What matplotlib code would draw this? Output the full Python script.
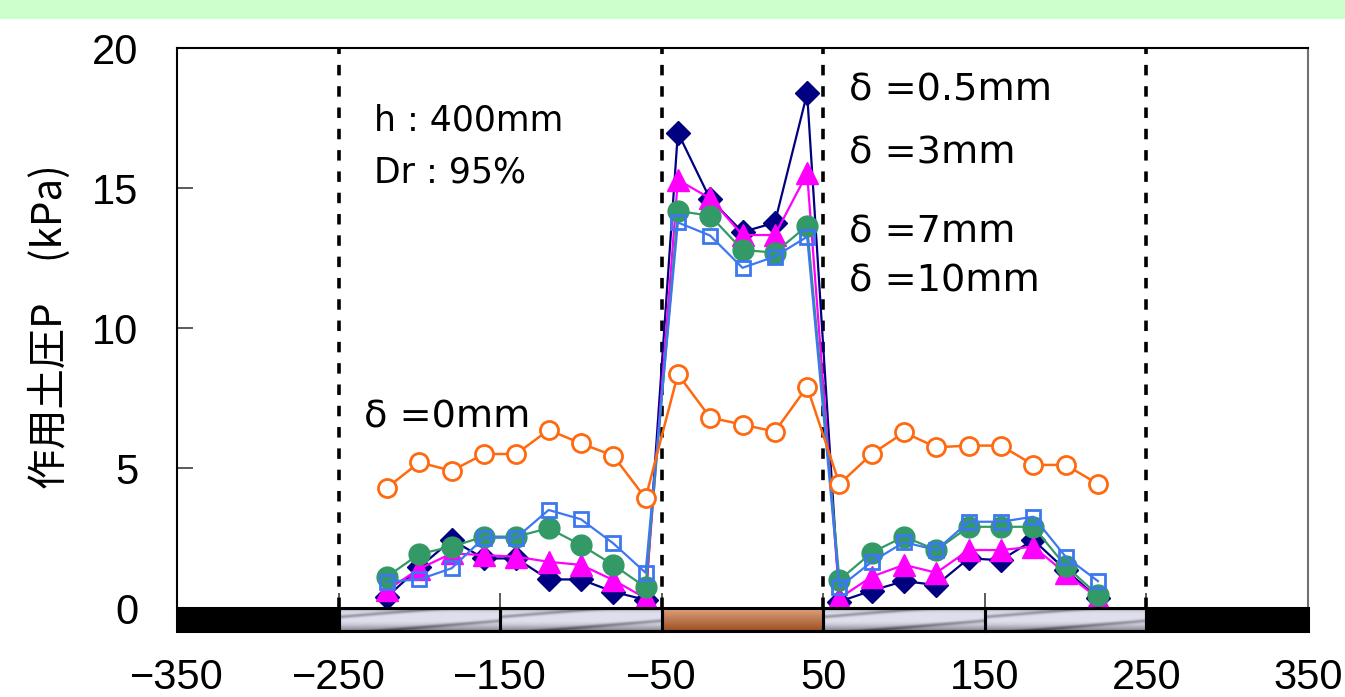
import numpy as np
import matplotlib
matplotlib.use("Agg")
import matplotlib.pyplot as plt
from matplotlib.patches import Rectangle

# ---------------- data ----------------
x_pos = [-220, -200, -180, -160, -140, -120, -100, -80, -60,
         -40, -20, 0, 20, 40,
         60, 80, 100, 120, 140, 160, 180, 200, 220]

p_d05 = [0.40, 1.45, 2.43, 1.77, 1.77, 1.02, 1.02, 0.58, 0.29,
         16.98, 14.6, 13.43, 13.76, 18.38,
         0.23, 0.62, 0.96, 0.82, 1.77, 1.71, 2.43, 1.36, 0.35]
p_d3 = [0.64, 1.40, 1.95, 1.89, 1.83, 1.65, 1.54, 1.00, 0.35,
        15.29, 14.63, 13.32, 13.32, 15.52,
        0.35, 1.12, 1.54, 1.26, 2.07, 2.07, 2.19, 1.24, 0.35]
p_d7 = [1.12, 1.93, 2.19, 2.55, 2.55, 2.85, 2.25, 1.54, 0.74,
        14.18, 14.01, 12.79, 12.69, 13.65,
        1.00, 1.98, 2.55, 2.07, 2.90, 2.90, 2.90, 1.50, 0.46]
p_d10 = [0.94, 1.02, 1.42, 2.51, 2.51, 3.50, 3.17, 2.31, 1.26,
         13.77, 13.30, 12.15, 12.55, 13.26,
         0.74, 1.65, 2.35, 2.07, 3.08, 3.08, 3.26, 1.83, 0.96]
p_d0 = [4.30, 5.20, 4.90, 5.50, 5.50, 6.36, 5.88, 5.44, 3.92,
        8.35, 6.80, 6.55, 6.30, 7.90,
        4.43, 5.50, 6.27, 5.74, 5.80, 5.80, 5.11, 5.11, 4.43]

series_labels = ["δ =0.5mm", "δ =3mm", "δ =7mm", "δ =10mm", "δ =0mm"]
x_ticks = [-350, -250, -150, -50, 50, 150, 250, 350]
y_ticks = [0, 5, 10, 15, 20]
boundaries = [-250, -50, 50, 250]
ylabel = "作用土圧P\u3000(kPa)"
cond_labels = ["h : 400mm", "Dr : 95%"]

# ---------------- figure ----------------
W, H = 1345, 697
fig = plt.figure(figsize=(W / 100, H / 100), dpi=100)
fig.patches.append(Rectangle((0, 1 - 19 / H), 1, 19 / H, transform=fig.transFigure,
                             facecolor="#ccffcc", edgecolor="none", zorder=0))

ax = fig.add_axes([177 / W, 1 - 608 / H, 1131 / W, 560 / H])
ax.set_xlim(-350, 350)
ax.set_ylim(0, 20)

# series
ax.plot(x_pos, p_d05, color="#000080", lw=1.6, marker="D", ms=12,
        mfc="#000080", mec="#000080", zorder=3)
ax.plot(x_pos, p_d3, color="#ff00ff", lw=1.6, marker="^", ms=16,
        mfc="#ff00ff", mec="#ff00ff", zorder=4)
ax.plot(x_pos, p_d7, color="#339966", lw=1.6, marker="o", ms=15,
        mfc="#339966", mec="#339966", zorder=5)
ax.plot(x_pos, p_d10, color="#3c78f0", lw=1.6, marker="s", ms=10.5,
        mfc="none", mec="#3c78f0", mew=2, zorder=6)
ax.plot(x_pos, p_d0, color="#ff6a10", lw=1.8, marker="o", ms=13,
        mfc="white", mec="#ff6a10", mew=2, zorder=7)

# dashed boundaries
for b in boundaries:
    ax.axvline(b, color="black", lw=2.6, ls=(0, (2.9, 3.0)), zorder=2)

# ---------------- bar under the axis ----------------
bar_lo, bar_hi = -0.82, 0.0

def metal(nx=200, ny=40):
    u = np.linspace(0, 1, nx)[None, :]
    v = np.linspace(0, 1, ny)[:, None]
    base = 0.90 - 0.22 * np.exp(-(v / 0.12) ** 2) - 0.38 * np.clip((v - 0.55) / 0.45, 0, 1) ** 1.5
    s = v + 0.6 * u
    fr = (s * 1.3) % 1.0
    streak = 0.28 * np.exp(-((fr - 0.5) / 0.10) ** 2)
    g = np.clip(base - streak, 0, 1)
    img = np.stack([g * 0.97, g * 0.97, g * 1.0 + 0.03], axis=-1)
    return np.clip(img, 0, 1)

def copper(nx=10, ny=30):
    v = np.linspace(0, 1, ny)[:, None, None]
    top = np.array([0.87, 0.64, 0.49])
    bot = np.array([0.62, 0.31, 0.14])
    img = top * (1 - v) + bot * v
    return np.repeat(img, nx, axis=1)

segments = [(-350, -250, "black"), (-250, -150, "metal"), (-150, -50, "metal"),
            (-50, 50, "copper"), (50, 150, "metal"), (150, 250, "metal"),
            (250, 350, "black")]
for x0, x1, kind in segments:
    if kind == "black":
        r = Rectangle((x0, bar_lo), x1 - x0, bar_hi - bar_lo, facecolor="black",
                      edgecolor="black", lw=0, clip_on=False, zorder=8)
        ax.add_patch(r)
    else:
        img = metal() if kind == "metal" else copper()
        im = ax.imshow(img, extent=(x0, x1, bar_lo, bar_hi), aspect="auto",
                       interpolation="bilinear", zorder=8)
        im.set_clip_on(False)
    ax.add_patch(Rectangle((x0, bar_lo), x1 - x0, bar_hi - bar_lo, facecolor="none",
                           edgecolor="black", lw=2.2, clip_on=False, zorder=9))
ax.set_xlim(-350, 350)
ax.set_ylim(0, 20)

# ---------------- axes style ----------------
ax.spines["bottom"].set_visible(False)
ax.spines["left"].set_color("black")
ax.spines["left"].set_linewidth(1.5)
ax.spines["top"].set_color("black")
ax.spines["top"].set_linewidth(1.5)
ax.spines["right"].set_color("#707070")
ax.spines["right"].set_linewidth(1.5)

ax.set_xticks(x_ticks)
ax.set_yticks(y_ticks)
ax.tick_params(axis="y", direction="in", length=11.5, width=1.2, color="#404040",
               pad=28, labelsize=30)
ax.tick_params(axis="x", direction="in", length=11, width=1.2, color="#404040",
               pad=36, labelsize=30)
for lab in ax.get_xticklabels() + ax.get_yticklabels():
    lab.set_fontfamily("Liberation Sans")

fig.text(50 / W, 1 - 327 / H, ylabel, rotation=90, ha="center", va="center",
         fontsize=29, family=["Noto Sans CJK JP", "DejaVu Sans"])

# ---------------- annotations ----------------
cond_kw = dict(fontsize=25, family="DejaVu Sans", va="baseline", ha="left", zorder=10)
ax.text(-228, 17.04, cond_labels[0], **cond_kw)
ax.text(-228, 15.18, cond_labels[1], **cond_kw)
d_kw = dict(fontsize=27.5, family="DejaVu Sans", va="baseline", ha="left", zorder=10)
ax.text(66, 18.12, series_labels[0], **d_kw)
ax.text(66, 15.89, series_labels[1], **d_kw)
ax.text(66, 13.07, series_labels[2], **d_kw)
ax.text(66, 11.29, series_labels[3], **d_kw)
ax.text(-234, 6.46, series_labels[4], **d_kw)

fig.savefig("out.png", dpi=100)
